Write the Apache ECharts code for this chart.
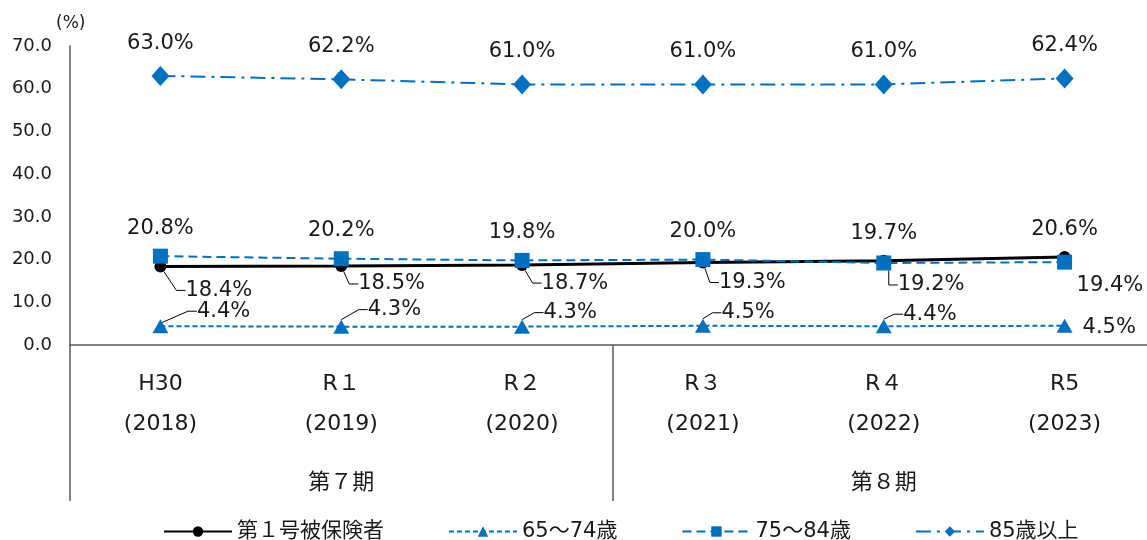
<!DOCTYPE html>
<html>
<head>
<meta charset="utf-8">
<script src="https://cdn.jsdelivr.net/npm/echarts@6/dist/echarts.min.js"></script>
<style>
  html, body { margin: 0; padding: 0; background: #fff; }
  #chart { width: 1147px; height: 540px; }
</style>
</head>
<body>
<div id="chart"></div>
<script>
// ---- data ----
const categories = ['H30\n(2018)', 'R１\n(2019)', 'R２\n(2020)', 'R３\n(2021)', 'R４\n(2022)', 'R5\n(2023)'];
const periods = ['第７期', '第８期'];
const seriesNames = ['第１号被保険者', '65～74歳', '75～84歳', '85歳以上'];
const insured1 = [18.4, 18.5, 18.7, 19.3, 19.7, 20.6];
const age65to74 = [4.4, 4.3, 4.3, 4.5, 4.4, 4.5];
const age75to84 = [20.8, 20.2, 19.8, 20.0, 19.2, 19.4];
const age85plus = [63.0, 62.2, 61.0, 61.0, 61.0, 62.4];
const yTicks = { min: 0, max: 70, interval: 10 };

// ---- styles ----
const FONT = "'DejaVu Sans', 'Noto Sans CJK JP', sans-serif";
const BLUE = '#0070C0';
const AXIS = '#595959';
const TEXT = '#1a1a1a';

const leader = { show: true, length2: 9, minTurnAngle: 0, lineStyle: { color: '#000', width: 1 } };
const baseLabel = { show: true, fontFamily: FONT, fontSize: 21, color: TEXT, formatter: p => p.value.toFixed(1) + '%' };

// per-point label placement: [position, distance, dx, dy, withLeader]
const placeBlack = [['right',0,19,24,true],['right',0,11,18,true],['right',0,13.5,18,true],['right',0,10,20,true],['top',11,0,0,false],['top',11,0,0,false]];
const placeTri   = [['right',0,28.5,-15,true],['right',0,18.5,-17,true],['right',0,13.5,-14,true],['right',0,10.5,-13,true],['right',0,11.5,-12,true],['right',10,0,2,false]];
const placeSq    = [['top',10,0,0,false],['top',10,0,0,false],['top',10,0,0,false],['top',10,0,0,false],['right',0,6.5,22,true],['right',0,4.5,23,false]];
const placeDia   = [['top',12,0,0,false],['top',12,0,0,false],['top',12,0,0,false],['top',12,0,0,false],['top',12,0,0,false],['top',12,0,0,false]];

function buildData(values, place) {
  return values.map((v, i) => {
    const p = place[i];
    return {
      value: v,
      label: { position: p[0], distance: p[1] },
      labelLine: p[4] ? leader : { show: false }
    };
  });
}
function layoutFor(place) {
  return params => {
    const p = place[params.dataIndex];
    return { dx: p[2], dy: p[3] };
  };
}

const chart = echarts.init(document.getElementById('chart'), null, { renderer: 'canvas' });

chart.setOption({
  animation: false,
  backgroundColor: '#fff',
  textStyle: { fontFamily: FONT },
  grid: { left: 70, top: 46, width: 1085, height: 299, containLabel: false, outerBoundsMode: 'none' },
  legend: {
    left: 158, top: 516,
    itemWidth: 68, itemHeight: 13, itemGap: 64,
    textStyle: { fontFamily: FONT, fontSize: 21, color: TEXT },
    data: seriesNames
  },
  xAxis: [
    {
      type: 'category', data: categories, position: 'bottom', boundaryGap: true,
      axisLine: { show: true, lineStyle: { color: AXIS, width: 1.5 } },
      axisTick: { show: false },
      axisLabel: { fontFamily: FONT, fontSize: 22, color: TEXT, lineHeight: 40, margin: 19, interval: 0 }
    },
    {
      type: 'category', data: periods, position: 'bottom', boundaryGap: true,
      axisLine: { show: false },
      axisTick: { show: true, length: 156, lineStyle: { color: AXIS, width: 1.5 } },
      axisLabel: { fontFamily: FONT, fontSize: 22, color: TEXT, margin: 127, interval: 0 }
    }
  ],
  yAxis: {
    type: 'value', min: yTicks.min, max: yTicks.max, interval: yTicks.interval,
    name: '(%)', nameLocation: 'end', nameGap: 14,
    nameTextStyle: { fontFamily: FONT, fontSize: 17, color: TEXT, align: 'left', padding: [0, 0, 0, -14] },
    axisLine: { show: true, lineStyle: { color: AXIS, width: 1.5 } },
    axisTick: { show: false },
    splitLine: { show: false },
    axisLabel: { fontFamily: FONT, fontSize: 18, color: TEXT, margin: 18, formatter: v => v.toFixed(1) }
  },
  series: [
    {
      name: seriesNames[0], type: 'line', data: buildData(insured1, placeBlack),
      symbol: 'circle', symbolSize: 12,
      itemStyle: { color: '#000' },
      lineStyle: { color: '#000', width: 3 },
      label: baseLabel, labelLayout: layoutFor(placeBlack), z: 2
    },
    {
      name: seriesNames[1], type: 'line', data: buildData(age65to74, placeTri),
      symbol: 'triangle', symbolSize: [16, 14],
      itemStyle: { color: BLUE },
      lineStyle: { color: BLUE, width: 2, type: [5, 3] },
      label: baseLabel, labelLayout: layoutFor(placeTri), z: 3
    },
    {
      name: seriesNames[2], type: 'line', data: buildData(age75to84, placeSq),
      symbol: 'rect', symbolSize: 15,
      itemStyle: { color: BLUE },
      lineStyle: { color: BLUE, width: 2, type: [9, 5] },
      label: baseLabel, labelLayout: layoutFor(placeSq), z: 4
    },
    {
      name: seriesNames[3], type: 'line', data: buildData(age85plus, placeDia),
      symbol: 'diamond', symbolSize: [18, 20],
      itemStyle: { color: BLUE },
      lineStyle: { color: BLUE, width: 2, type: [15, 6, 3, 6] },
      label: baseLabel, labelLayout: layoutFor(placeDia), z: 5
    }
  ]
});
</script>
</body>
</html>
